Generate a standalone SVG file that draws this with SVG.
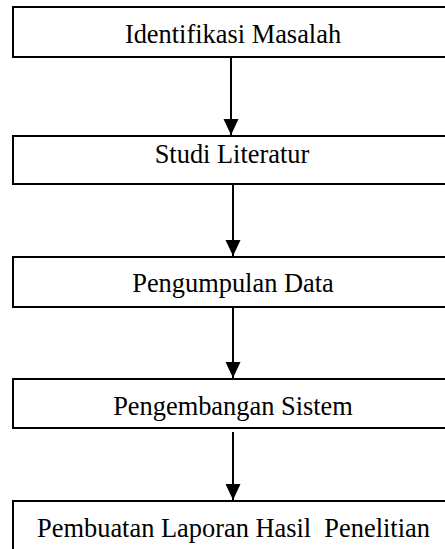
<svg xmlns="http://www.w3.org/2000/svg" width="445" height="549" viewBox="0 0 445 549">
<style>
.box{fill:#fff;stroke:#000;stroke-width:2}
.lbl{font-family:"Liberation Serif","Times New Roman",serif;font-size:26.4px;fill:#000;text-anchor:middle;white-space:pre}
.conn{stroke:#000;stroke-width:2;fill:none}
</style>
<defs>
<marker id="arr" markerUnits="userSpaceOnUse" markerWidth="16" markerHeight="17" refX="16" refY="7.5" orient="auto">
<path d="M0,0 L16,7.5 L0,15 Z" fill="#000"/>
</marker>
</defs>
<rect width="445" height="549" fill="#fff"/>
<g id="n1"><rect class="box" x="13" y="7" width="440" height="50"/><text class="lbl" x="233" y="43">Identifikasi Masalah</text></g>
<g id="n2"><rect class="box" x="13" y="136" width="440" height="48"/><text class="lbl" x="232" y="163">Studi Literatur</text></g>
<g id="n3"><rect class="box" x="13" y="257" width="440" height="50"/><text class="lbl" x="233" y="292">Pengumpulan Data</text></g>
<g id="n4"><rect class="box" x="13" y="379" width="440" height="49"/><text class="lbl" x="233" y="415">Pengembangan Sistem</text></g>
<g id="n5"><rect class="box" x="13" y="501" width="440" height="60"/><text class="lbl" x="233.5" y="537">Pembuatan Laporan Hasil  Penelitian</text></g>
<g id="connectors">
<line class="conn" x1="231" y1="58" x2="231" y2="135" marker-end="url(#arr)"/>
<line class="conn" x1="233" y1="185" x2="233" y2="256" marker-end="url(#arr)"/>
<line class="conn" x1="233" y1="308" x2="233" y2="378" marker-end="url(#arr)"/>
<line class="conn" x1="233" y1="432" x2="233" y2="500" marker-end="url(#arr)"/>
</g>
</svg>
